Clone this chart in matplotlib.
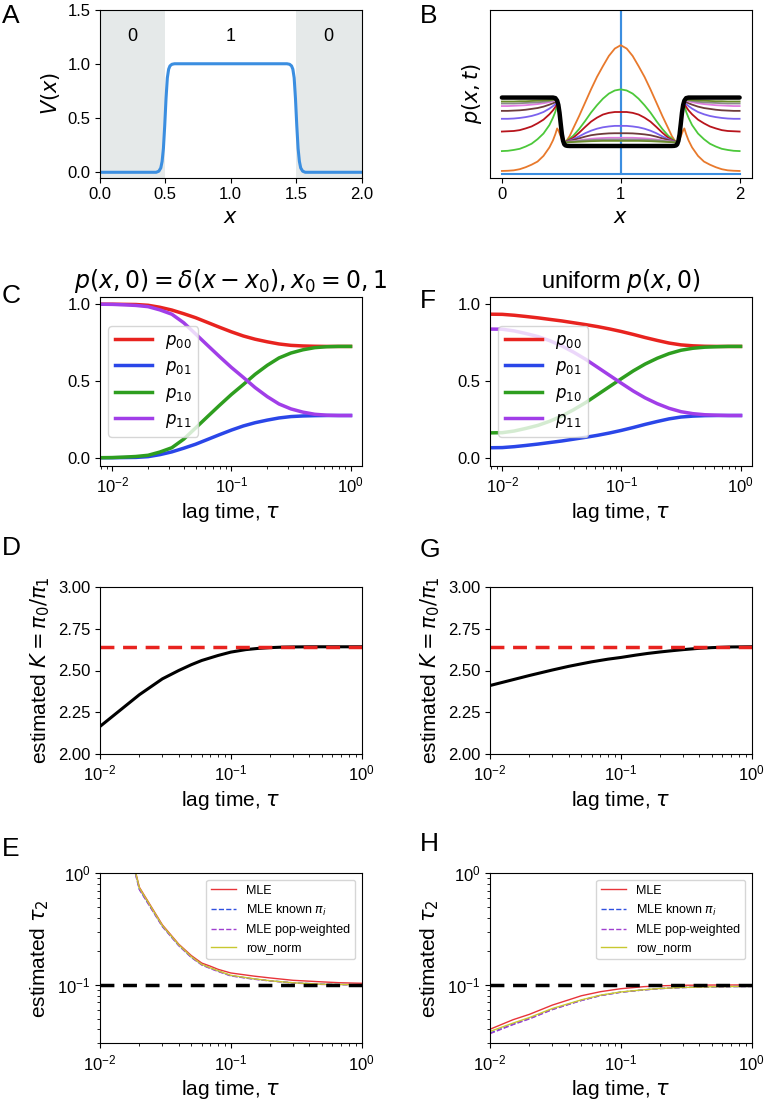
import matplotlib
matplotlib.use("Agg")
import matplotlib.pyplot as plt
from matplotlib.ticker import NullFormatter

plt.rcParams['font.family'] = ['Liberation Sans', 'DejaVu Sans']
plt.rcParams['mathtext.fontset'] = 'dejavusans'
plt.rcParams['xtick.labelsize'] = 12
plt.rcParams['ytick.labelsize'] = 12
plt.rcParams['axes.labelsize'] = 15

# ---------------- Panel A: potential ----------------
xa_half = [0.0, 0.4, 0.43, 0.45, 0.465, 0.475, 0.485, 0.495, 0.505, 0.515, 0.525, 0.535, 0.55, 0.57, 0.6, 1.0]
va_half = [0.0, 0.0, 0.0, 0.01, 0.04, 0.10, 0.22, 0.43, 0.68, 0.87, 0.95, 0.98, 0.995, 1.0, 1.0, 1.0]
region_labels = ['0', '1', '0']
region_label_x = [0.25, 1.0, 1.75]

# ---------------- Panel B: p(x,t) ----------------
xb_half = [0.0, 0.05, 0.1, 0.15, 0.2, 0.25, 0.3, 0.35, 0.4, 0.43, 0.45, 0.465,
           0.475, 0.485, 0.495, 0.505, 0.515, 0.525, 0.535,
           0.55, 0.57, 0.6, 0.65, 0.7, 0.75, 0.8, 0.85, 0.9, 0.95, 1.0]
p_t0_x = [0.0, 1.0, 1.0, 1.0, 2.0]
p_t0 = [0.0, 0.0, 100.0, 0.0, 0.0]
p_orange = [0.118, 0.125, 0.14, 0.18, 0.25, 0.34, 0.45, 0.65, 0.95, 1.2, 1.42, 1.62,
            1.55, 1.45, 1.34, 1.24, 1.17, 1.14, 1.14,
            1.22, 1.35, 1.62, 2.06, 2.53, 3.0, 3.44, 3.82, 4.18, 4.44, 4.56]
p_green = [0.82, 0.83, 0.86, 0.9, 0.98, 1.08, 1.24, 1.44, 1.74, 2.0, 2.21, 2.47,
           2.42, 2.15, 1.77, 1.41, 1.2, 1.14, 1.14,
           1.2, 1.26, 1.36, 1.6, 1.88, 2.18, 2.44, 2.67, 2.85, 2.96, 3.0]
p_red = [1.51, 1.52, 1.53, 1.56, 1.62, 1.69, 1.80, 1.93, 2.12, 2.26, 2.38, 2.53,
         2.43, 2.16, 1.77, 1.41, 1.2, 1.14, 1.14,
         1.18, 1.22, 1.29, 1.47, 1.67, 1.86, 2.0, 2.11, 2.17, 2.2, 2.2]
p_purple = [1.96, 1.96, 1.97, 1.99, 2.02, 2.06, 2.12, 2.2, 2.32, 2.41, 2.48, 2.56,
            2.44, 2.16, 1.77, 1.41, 1.2, 1.14, 1.14,
            1.16, 1.19, 1.24, 1.34, 1.45, 1.54, 1.61, 1.66, 1.69, 1.71, 1.71]
p_brown = [2.24, 2.24, 2.25, 2.26, 2.28, 2.31, 2.34, 2.39, 2.46, 2.51, 2.55, 2.6,
           2.45, 2.16, 1.77, 1.41, 1.2, 1.14, 1.14,
           1.15, 1.17, 1.21, 1.27, 1.33, 1.38, 1.41, 1.43, 1.445, 1.45, 1.45]
p_pink = [2.41, 2.41, 2.42, 2.43, 2.44, 2.46, 2.48, 2.51, 2.55, 2.58, 2.6, 2.63,
          2.46, 2.16, 1.77, 1.41, 1.2, 1.14, 1.14,
          1.145, 1.155, 1.17, 1.2, 1.23, 1.255, 1.27, 1.28, 1.29, 1.29, 1.29]
p_gray = [2.5, 2.5, 2.5, 2.51, 2.52, 2.53, 2.54, 2.56, 2.59, 2.61, 2.62, 2.64,
          2.46, 2.16, 1.77, 1.41, 1.2, 1.14, 1.14,
          1.14, 1.15, 1.16, 1.18, 1.2, 1.21, 1.22, 1.225, 1.23, 1.23, 1.23]
p_olive = [2.57, 2.57, 2.57, 2.58, 2.58, 2.59, 2.6, 2.61, 2.62, 2.63, 2.64, 2.65,
           2.46, 2.16, 1.77, 1.41, 1.2, 1.14, 1.13,
           1.13, 1.135, 1.14, 1.15, 1.16, 1.17, 1.175, 1.18, 1.18, 1.18, 1.18]
p_eq = [2.71, 2.71, 2.71, 2.71, 2.71, 2.71, 2.71, 2.71, 2.71, 2.71, 2.69, 2.6,
        2.45, 2.17, 1.78, 1.41, 1.18, 1.06, 1.02,
        1.005, 1.0, 1.0, 1.0, 1.0, 1.0, 1.0, 1.0, 1.0, 1.0, 1.0]
b_curves = [p_orange, p_green, p_red, p_purple, p_brown, p_pink, p_gray, p_olive]
b_colors = ['#e8792c', '#4cc83a', '#b8141c', '#7b62ee', '#6e3b3b', '#e07ce0', '#8a8a8a', '#6a8a2a']

# ---------------- Panels C, F: transition probabilities ----------------
tau_cf = [0.0079, 0.01, 0.0126, 0.0158, 0.02, 0.0251, 0.0316, 0.0398, 0.0501, 0.0631, 0.0794,
          0.1, 0.126, 0.158, 0.2, 0.251, 0.316, 0.398, 0.501, 0.631, 0.794, 1.0]
c_p00 = [1.000, 1.000, 0.999, 0.998, 0.993, 0.980, 0.962, 0.938, 0.912, 0.881, 0.850,
         0.820, 0.793, 0.772, 0.755, 0.741, 0.732, 0.728, 0.726, 0.725, 0.725, 0.725]
c_p01 = [0.000, 0.000, 0.001, 0.002, 0.007, 0.020, 0.038, 0.062, 0.088, 0.119, 0.150,
         0.180, 0.207, 0.228, 0.245, 0.259, 0.268, 0.272, 0.274, 0.275, 0.275, 0.275]
c_p10 = [0.000, 0.001, 0.004, 0.008, 0.016, 0.037, 0.065, 0.121, 0.194, 0.268, 0.341,
         0.412, 0.477, 0.543, 0.602, 0.650, 0.682, 0.703, 0.717, 0.723, 0.725, 0.725]
c_p11 = [1.000, 0.999, 0.996, 0.992, 0.984, 0.963, 0.935, 0.879, 0.806, 0.732, 0.659,
         0.588, 0.523, 0.457, 0.398, 0.350, 0.318, 0.297, 0.283, 0.277, 0.275, 0.275]
f_p00 = [0.935, 0.934, 0.928, 0.920, 0.911, 0.901, 0.891, 0.879, 0.867, 0.854, 0.839,
         0.822, 0.803, 0.783, 0.764, 0.747, 0.735, 0.729, 0.726, 0.725, 0.725, 0.725]
f_p01 = [0.065, 0.066, 0.072, 0.080, 0.089, 0.099, 0.109, 0.121, 0.133, 0.146, 0.161,
         0.178, 0.197, 0.217, 0.236, 0.253, 0.265, 0.271, 0.274, 0.275, 0.275, 0.275]
f_p10 = [0.162, 0.163, 0.174, 0.191, 0.211, 0.238, 0.272, 0.313, 0.359, 0.411, 0.463,
         0.515, 0.566, 0.610, 0.648, 0.678, 0.700, 0.713, 0.720, 0.723, 0.725, 0.725]
f_p11 = [0.838, 0.837, 0.826, 0.809, 0.789, 0.762, 0.728, 0.687, 0.641, 0.589, 0.537,
         0.485, 0.434, 0.390, 0.352, 0.322, 0.300, 0.287, 0.280, 0.277, 0.275, 0.275]
p_labels = [r'$p_{00}$', r'$p_{01}$', r'$p_{10}$', r'$p_{11}$']
p_colors = ['#e8231f', '#2a46e8', '#2e9e1f', '#a13ee8']

# ---------------- Panels D, G: estimated K ----------------
tau_dg = [0.01, 0.02, 0.03, 0.04, 0.05, 0.06, 0.08, 0.1, 0.13, 0.16, 0.2, 0.25, 0.3, 0.4, 0.5, 0.7, 1.0]
d_K = [2.165, 2.355, 2.45, 2.50, 2.535, 2.56, 2.59, 2.61, 2.625, 2.632, 2.637, 2.640, 2.641, 2.642, 2.642, 2.642, 2.642]
g_K = [2.41, 2.47, 2.503, 2.525, 2.54, 2.552, 2.568, 2.578, 2.592, 2.602, 2.611, 2.619, 2.625, 2.633, 2.637, 2.641, 2.642]
K_true = 2.642

# ---------------- Panels E, H: estimated tau2 ----------------
tau_e = [0.01, 0.02, 0.03, 0.04, 0.05, 0.06, 0.07, 0.08, 0.1, 0.15, 0.2, 0.3, 0.5, 0.7, 1.0]
e_mle = [20.0, 0.75, 0.345, 0.232, 0.183, 0.157, 0.147, 0.138, 0.128, 0.120, 0.1155, 0.110, 0.1065, 0.1045, 0.1035]
e_known = [19.0, 0.72, 0.335, 0.226, 0.177, 0.152, 0.141, 0.133, 0.121, 0.113, 0.109, 0.1045, 0.1015, 0.1008, 0.1003]
e_popw = [18.5, 0.715, 0.333, 0.225, 0.176, 0.151, 0.140, 0.132, 0.1205, 0.1125, 0.1085, 0.104, 0.101, 0.1005, 0.1002]
e_row = [19.5, 0.74, 0.34, 0.229, 0.179, 0.153, 0.142, 0.134, 0.122, 0.1135, 0.109, 0.1045, 0.1015, 0.1008, 0.1004]
tau_h = [0.01, 0.015, 0.02, 0.03, 0.04, 0.05, 0.07, 0.1, 0.15, 0.2, 0.3, 0.5, 0.7, 1.0]
h_mle = [0.0401, 0.0488, 0.0545, 0.066, 0.0735, 0.080, 0.087, 0.0925, 0.0965, 0.0982, 0.0993, 0.0998, 0.0999, 0.1]
h_known = [0.0370, 0.0445, 0.050, 0.0605, 0.0672, 0.0728, 0.0805, 0.0862, 0.0903, 0.0928, 0.0949, 0.0962, 0.0967, 0.097]
h_popw = [0.0366, 0.0441, 0.0496, 0.0601, 0.0669, 0.0725, 0.0802, 0.086, 0.0902, 0.0927, 0.0948, 0.0962, 0.0967, 0.097]
h_row = [0.0383, 0.0455, 0.051, 0.0615, 0.068, 0.0735, 0.081, 0.0865, 0.0905, 0.093, 0.095, 0.0963, 0.0968, 0.097]
tau2_true = 0.1
est_labels = ['MLE', r'MLE known $\pi_i$', 'MLE pop-weighted', 'row_norm']
est_colors = ['#e8343a', '#3050e0', '#a040d0', '#c8c830']
est_styles = ['-', '--', '--', '-']

# ---------------- layout ----------------
W, H = 765, 1112
fig = plt.figure(figsize=(W / 100, H / 100), dpi=100)


def add_ax(l, r, t, b):
    return fig.add_axes([l / W, 1 - b / H, (r - l) / W, (b - t) / H])


cols = [(100, 361.5), (490, 751.5)]
rows = [(9.5, 177.7), (297.3, 465.7), (587, 754), (873.3, 1043.3)]


def mirror(xh, yh):
    xs = list(xh) + [2 - v for v in xh[::-1][1:]]
    ys = list(yh) + list(yh[::-1][1:])
    return xs, ys


# A
axA = add_ax(cols[0][0], cols[0][1], rows[0][0], rows[0][1])
axA.axvspan(0, 0.5, color='#e5e9e9', lw=0)
axA.axvspan(1.5, 2.0, color='#e5e9e9', lw=0)
xs, ys = mirror(xa_half, va_half)
axA.plot(xs, ys, color='#3b8ee0', lw=2.2)
for lab, xl in zip(region_labels, region_label_x):
    axA.text(xl, 1.25, lab, ha='center', va='center', fontsize=13)
axA.set_xlim(0, 2)
axA.set_ylim(-0.05, 1.5)
axA.set_xticks([0, 0.5, 1.0, 1.5, 2.0])
axA.set_yticks([0, 0.5, 1.0, 1.5])
axA.set_xlabel(r'$x$')
axA.set_ylabel(r'$V(x)$')

# B
axB = add_ax(cols[1][0], cols[1][1], rows[0][0], rows[0][1])
axB.plot(p_t0_x, p_t0, color='#3b8ee0', lw=1.5)
for cur, col in zip(b_curves, b_colors):
    xs, ys = mirror(xb_half, cur)
    axB.plot(xs, ys, color=col, lw=1.3)
xs, ys = mirror(xb_half, p_eq)
axB.plot(xs, ys, color='black', lw=3.2, solid_capstyle='round', solid_joinstyle='round')
axB.set_xlim(-0.1, 2.1)
axB.set_ylim(-0.12, 5.82)
axB.set_xticks([0, 1, 2])
axB.set_yticks([])
axB.set_xlabel(r'$x$')
axB.set_ylabel(r'$p(x, t)$')

# C, F
for ci, (vals, title) in enumerate([((c_p00, c_p01, c_p10, c_p11), r'$p(x, 0) = \delta(x - x_0), x_0 = 0, 1$'),
                                     ((f_p00, f_p01, f_p10, f_p11), r'uniform $p(x, 0)$')]):
    ax = add_ax(cols[ci][0], cols[ci][1], rows[1][0], rows[1][1])
    for v, lab, col in zip(vals, p_labels, p_colors):
        ax.plot(tau_cf, v, color=col, lw=2.5, label=lab)
    ax.set_xscale('log')
    ax.set_xlim(10 ** -2.103, 10 ** 0.092)
    ax.set_ylim(-0.052, 1.045)
    ax.set_yticks([0, 0.5, 1.0])
    ax.xaxis.set_minor_formatter(NullFormatter())
    ax.set_xlabel(r'lag time, $\tau$')
    ax.set_title(title, fontsize=17, pad=7)
    ax.legend(loc='center left', fontsize=12, handlelength=2.2)

# D, G
for ci, kv in enumerate([d_K, g_K]):
    ax = add_ax(cols[ci][0], cols[ci][1], rows[2][0], rows[2][1])
    ax.plot(tau_dg, kv, color='black', lw=2.2)
    ax.plot([tau_dg[0], tau_dg[-1]], [K_true, K_true], color='#e8231f', lw=2.5, ls=(0, (4, 2.5)))
    ax.set_xscale('log')
    ax.set_xlim(0.01, 1)
    ax.set_ylim(2.0, 3.0)
    ax.set_yticks([2.0, 2.25, 2.5, 2.75, 3.0])
    ax.set_yticklabels(['2.00', '2.25', '2.50', '2.75', '3.00'])
    ax.xaxis.set_minor_formatter(NullFormatter())
    ax.set_xlabel(r'lag time, $\tau$')
    ax.set_ylabel(r'estimated $K = \pi_0/\pi_1$')

# E, H
for ci, (tt, series) in enumerate([(tau_e, (e_mle, e_known, e_popw, e_row)),
                                   (tau_h, (h_mle, h_known, h_popw, h_row))]):
    ax = add_ax(cols[ci][0], cols[ci][1], rows[3][0], rows[3][1])
    for v, lab, col, ls in zip(series, est_labels, est_colors, est_styles):
        ax.plot(tt, v, color=col, lw=1.0, ls=ls, label=lab)
    ax.plot([0.01, 1.0], [tau2_true, tau2_true], color='black', lw=2.5, ls=(0, (4, 2.5)))
    ax.set_xscale('log')
    ax.set_yscale('log')
    ax.set_xlim(0.01, 1)
    ax.set_ylim(0.03, 1)
    ax.xaxis.set_minor_formatter(NullFormatter())
    ax.yaxis.set_minor_formatter(NullFormatter())
    ax.set_xlabel(r'lag time, $\tau$')
    ax.set_ylabel(r'estimated $\tau_2$')
    ax.legend(loc='upper right', fontsize=9)

# panel letters
letters = [('A', 2, 4), ('B', 420, 4), ('C', 2, 284), ('F', 420, 289),
           ('D', 2, 536), ('G', 420, 538), ('E', 2, 837), ('H', 420, 832)]
for txt, px, py in letters:
    fig.text(px / W, 1 - py / H, txt, fontsize=19, ha='left', va='top')

fig.savefig('out.png', dpi=100)
